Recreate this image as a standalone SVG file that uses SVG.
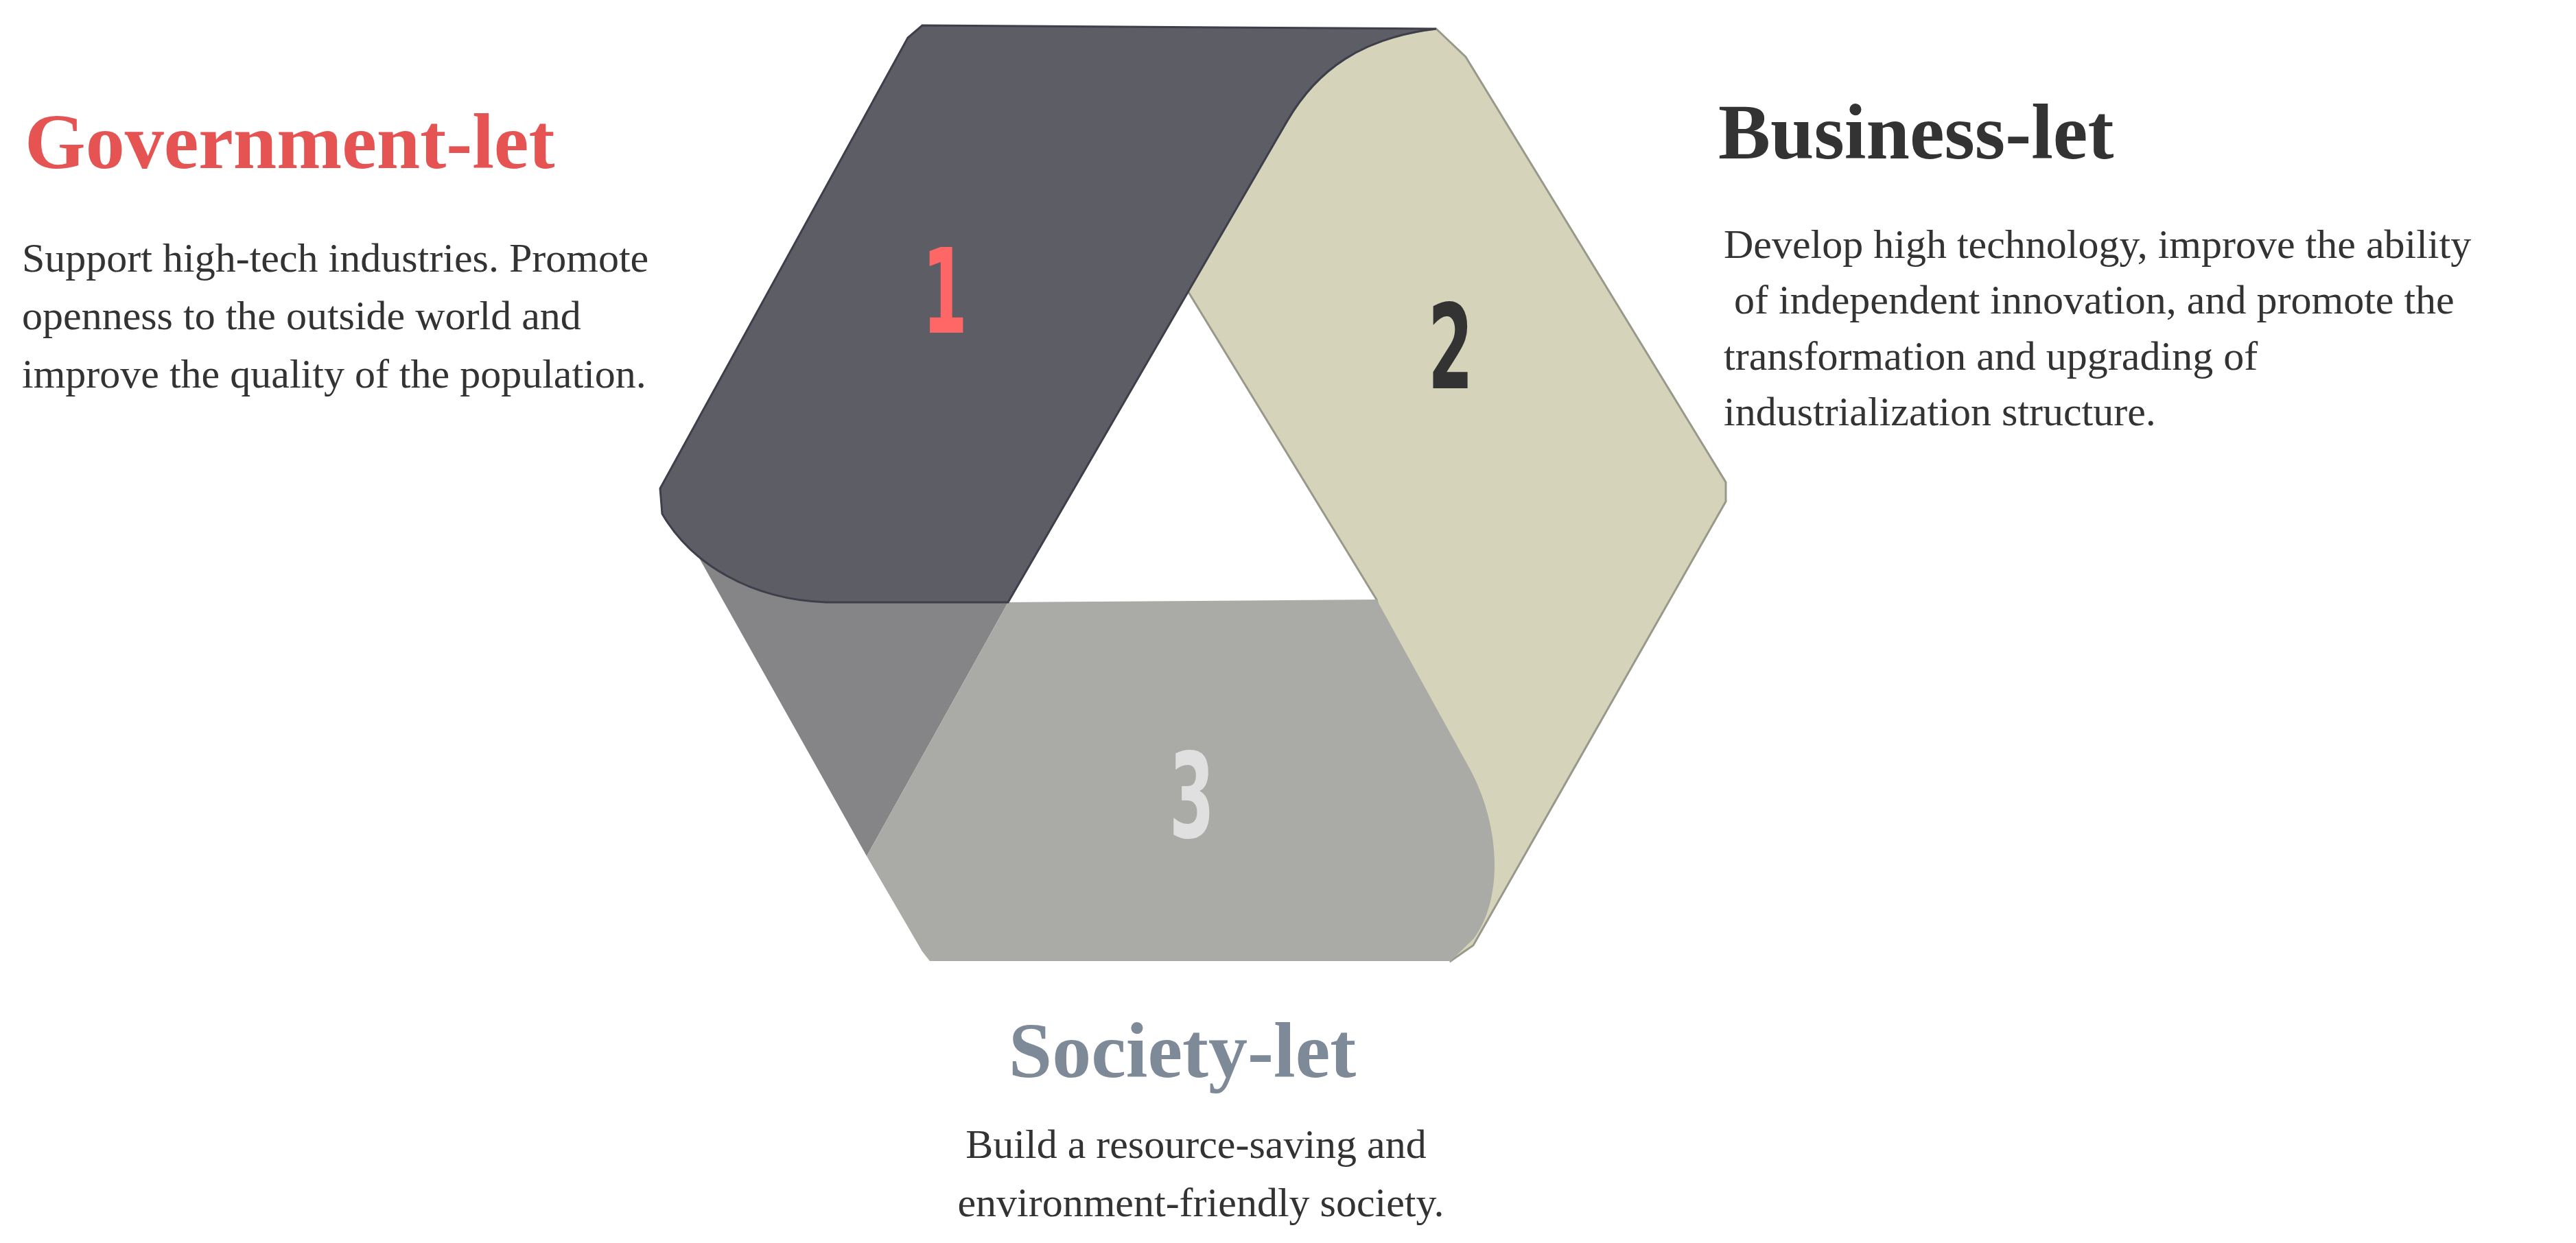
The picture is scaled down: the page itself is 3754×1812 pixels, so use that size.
<svg xmlns="http://www.w3.org/2000/svg" width="3754" height="1812" viewBox="0 0 3754 1812">
<style>
.title{font-family:"Liberation Serif",serif;font-weight:bold;font-size:114px}
.body{font-family:"Liberation Serif",serif;font-size:60px;fill:#333}
.num{font-family:"DejaVu Sans",sans-serif;font-weight:bold;font-size:172px;text-anchor:middle}
</style>
<rect width="3754" height="1812" fill="#fff"/>
<g id="shape">
<path id="band1-lower" d="M962,712 L1263,1248 L1469,878 L1204,878 C1095,874 1008,823 965,749 Z" fill="#858587"/>
<path id="band2" d="M2093,42 L2136,83 L2515,703 L2515,731 L2147,1378 L2114,1401 L2006,874 L1729,421 L1876,176 C1919,102 1984,55 2093,42 Z" fill="#d6d3bb" stroke="#9a988a" stroke-width="3"/>
<path id="band3" d="M1469,878 L2006,874 L2136,1110 C2190,1202 2190,1313 2147,1369 L2114,1401 L1355,1401 L1344,1387 L1263,1248 Z" fill="#aaaaa6"/>
<path id="band1" d="M1344,37 L2093,42 C1984,55 1919,102 1876,176 L1469,878 L1204,878 C1095,874 1008,823 965,749 L962,712 L1323,55 Z" fill="#5d5d66" stroke="#3f3f4c" stroke-width="3"/>
</g>
<g id="connectors"></g>
<g id="node1">
<text class="num" fill="#ff6666" transform="translate(1377,485) scale(0.55,1)">1</text>
<text class="title" x="36" y="245" fill="#e65353">Government-let</text>
<text class="body" x="32" y="396">Support high-tech industries. Promote</text>
<text class="body" x="32" y="480">openness to the outside world and</text>
<text class="body" x="32" y="565">improve the quality of the population.</text>
</g>
<g id="node2">
<text class="num" fill="#333" transform="translate(2114,566) scale(0.55,1)">2</text>
<text class="title" x="2504" y="231" fill="#333">Business-let</text>
<text class="body" x="2512" y="376">Develop high technology, improve the ability</text>
<text class="body" x="2512" y="457" xml:space="preserve"> of independent innovation, and promote the</text>
<text class="body" x="2512" y="539">transformation and upgrading of</text>
<text class="body" x="2512" y="620">industrialization structure.</text>
</g>
<g id="node3">
<text class="num" fill="#e0e0e0" transform="translate(1737,1221) scale(0.55,1)">3</text>
<text class="title" x="1723" y="1570" fill="#7f8a99" text-anchor="middle">Society-let</text>
<text class="body" x="1743" y="1688" text-anchor="middle">Build a resource-saving and</text>
<text class="body" x="1750" y="1773" text-anchor="middle">environment-friendly society.</text>
</g>
</svg>
